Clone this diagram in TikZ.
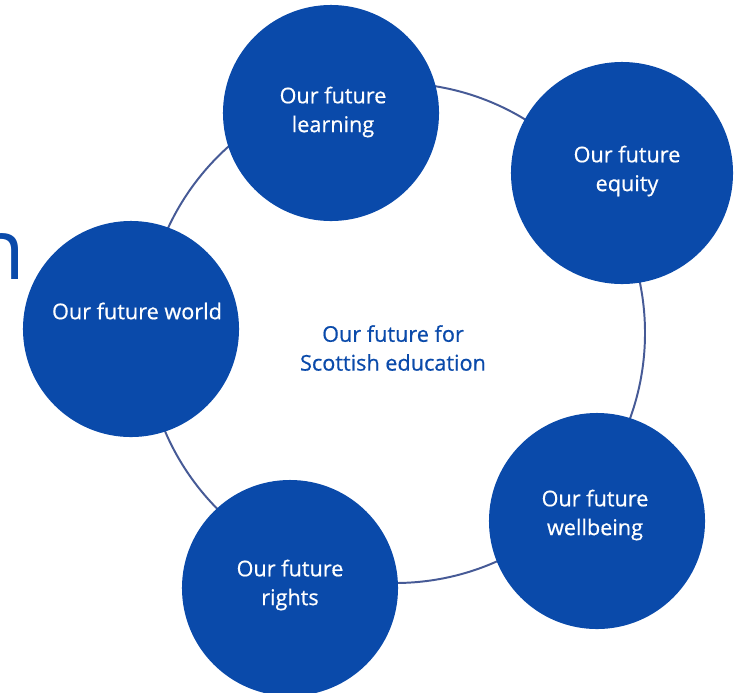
\documentclass[tikz,border=0pt]{standalone}
\usepackage{fontspec}
\setmainfont{Open Sans}
\newfontfamily\capfont[FakeBold=0.6]{Open Sans}
\usetikzlibrary{positioning}

\definecolor{edublue}{RGB}{10,74,170}
\definecolor{ringblue}{RGB}{70,90,150}

\tikzset{
    topic/.style = {circle, fill=edublue, draw=none, minimum size=#1, inner sep=0pt},
    caption/.style = {text=white, align=center, font=\capfont\fontsize{15.4}{20.5}\selectfont},
}

\begin{document}
\begin{tikzpicture}[x=0.025cm, y=-0.025cm]
    \useasboundingbox (0,0) rectangle (741,692);

    % ring behind the circles
    \coordinate (hub) at (395,333);
    \draw [ringblue, line width=1.4pt] (hub) circle (250);

    % the five circles
    \node[topic=5.4cm]  (learning)  at (331,113) {};
    \node[topic=5.55cm] (equity)    at (622,173) {};
    \node[topic=5.4cm]  (world)     at (131,329) {};
    \node[topic=5.4cm]  (wellbeing) at (597,521) {};
    \node[topic=5.4cm]  (rights)    at (290,588) {};

    \node[caption] (learningtext)  at (333,112) {Our future\\learning};
    \node[caption] (equitytext)    at (627,171) {Our future\\equity};
    \node[caption] (worldtext)     at (137,311) {Our future world};
    \node[caption] (wellbeingtext) at (595,515) {Our future\\wellbeing};
    \node[caption] (rightstext)    at (290,585) {Our future\\rights};

    % centre
    \node[caption, text=edublue] (centre) at (393,348) {Our future for\\Scottish education};

    % cut-off heading
    \node[anchor=base east, inner sep=0pt, text=edublue, font=\fontsize{60}{60}\selectfont] (heading) at (26,279) {n};
\end{tikzpicture}
\end{document}
